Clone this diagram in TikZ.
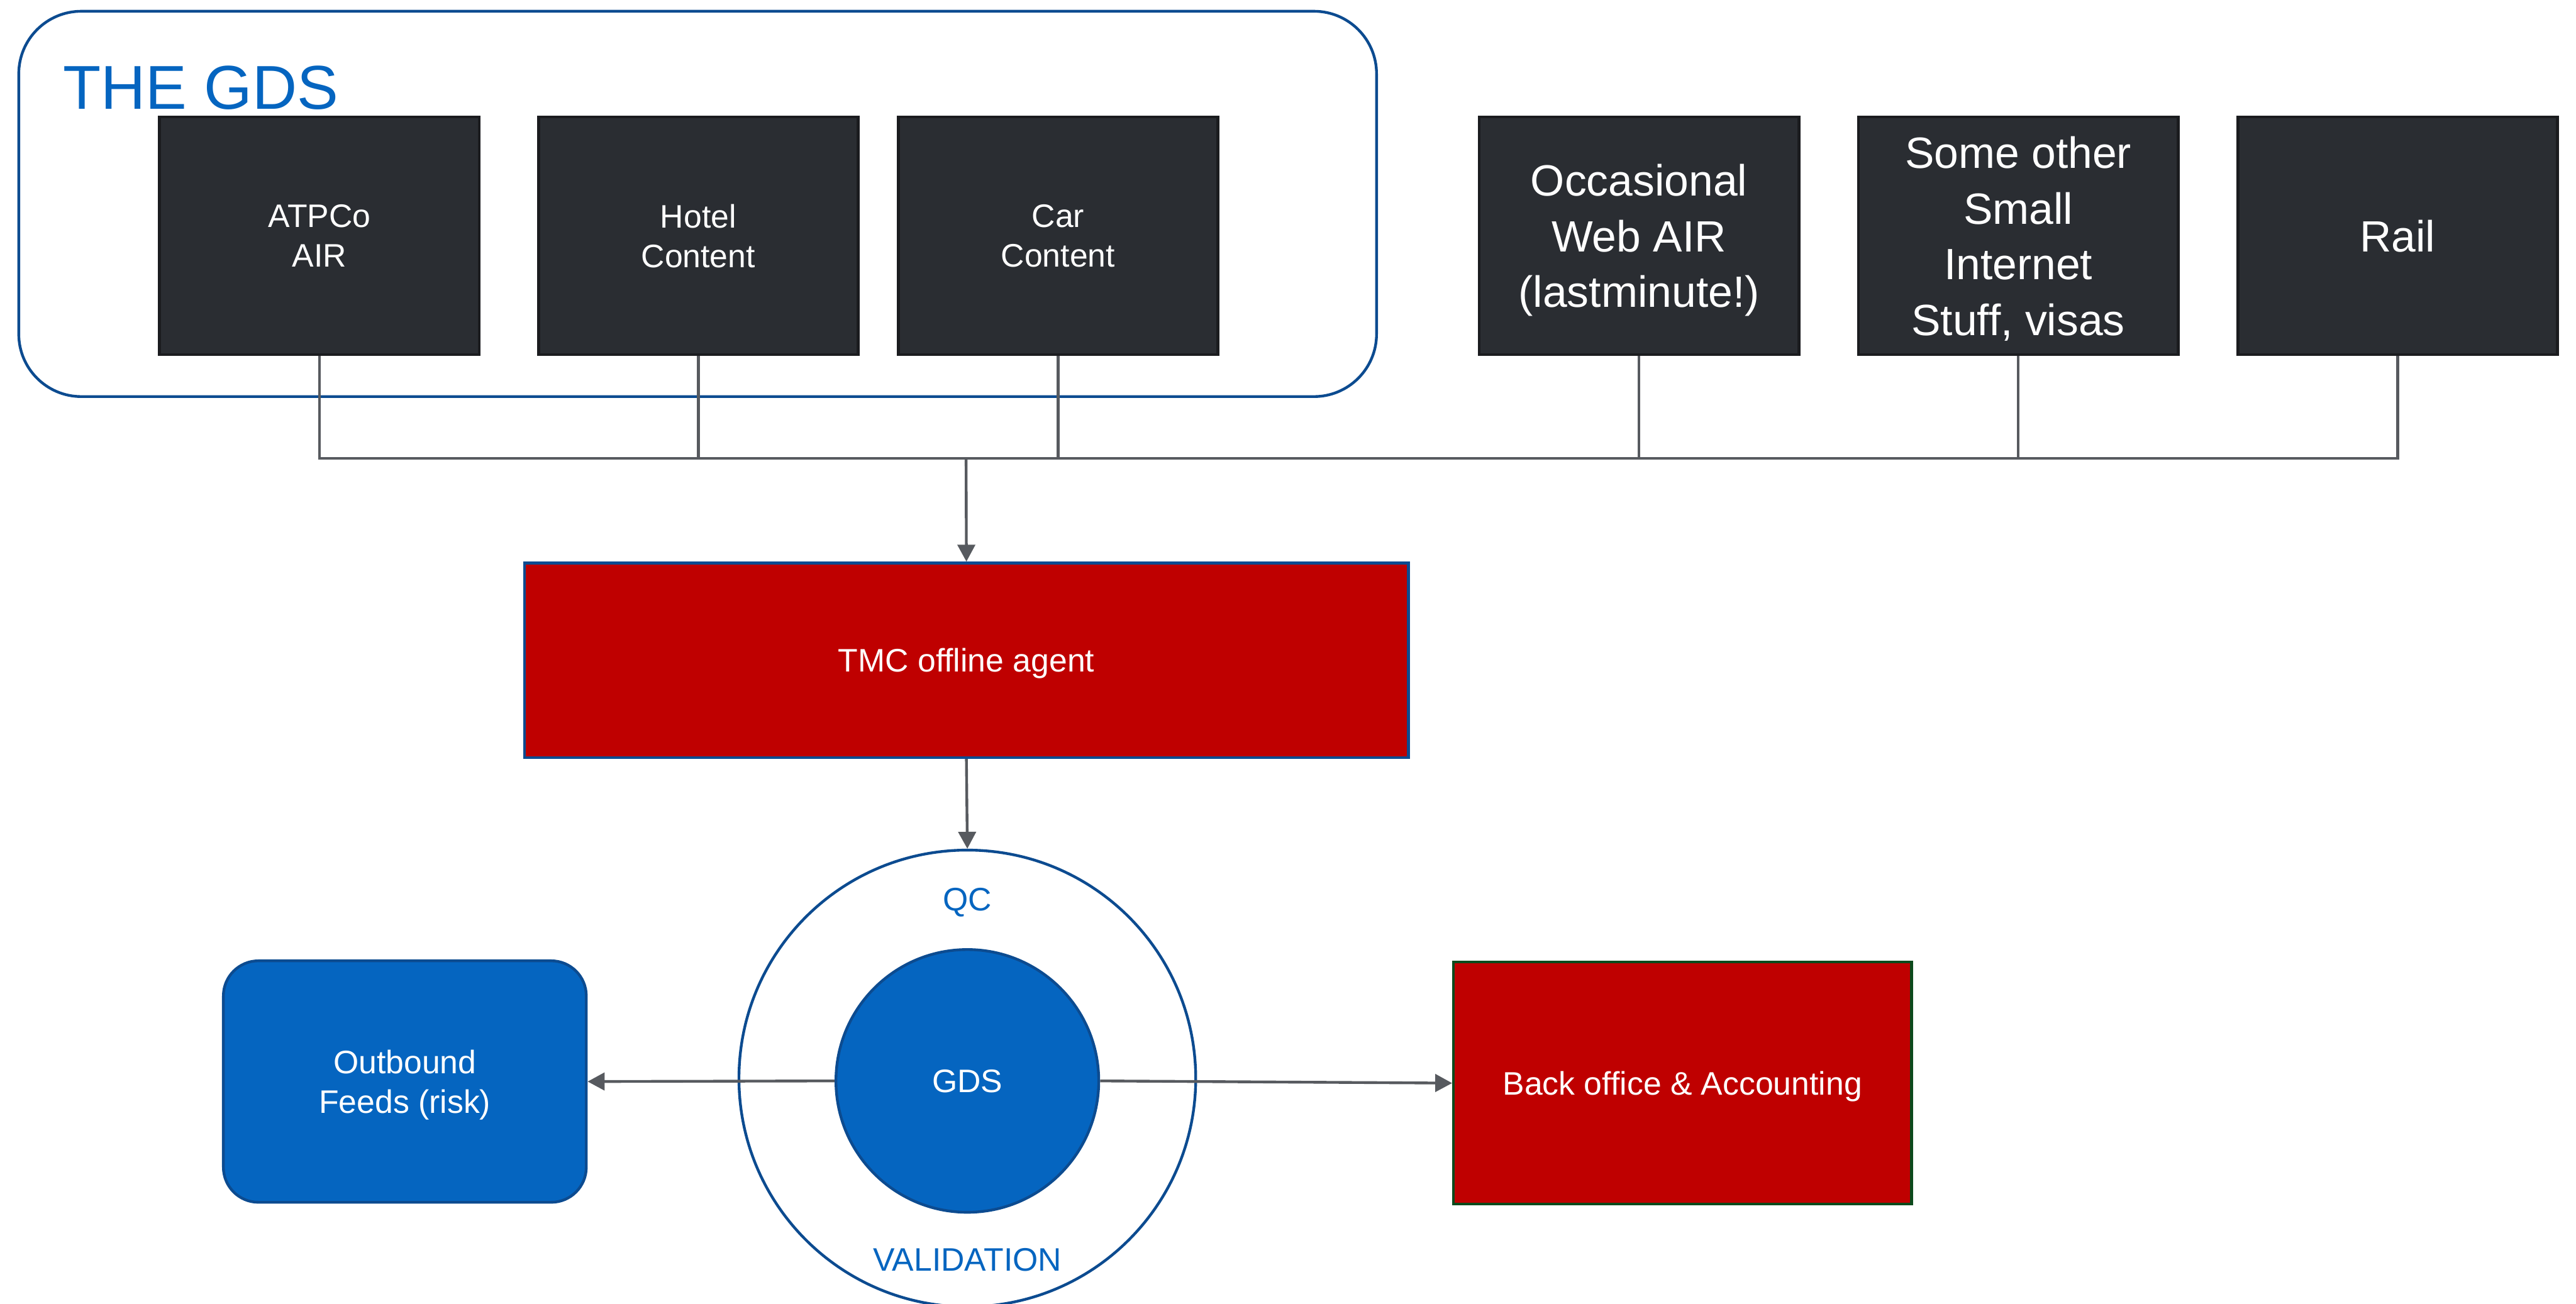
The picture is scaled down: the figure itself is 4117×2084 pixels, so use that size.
\documentclass[tikz,border=0pt]{standalone}
\usepackage{fontspec}
\setmainfont{Liberation Sans}
\usetikzlibrary{arrows.meta}

\definecolor{boxdark}{HTML}{2A2D32}
\definecolor{boxedge}{HTML}{1B1C1F}
\definecolor{tmcred}{HTML}{BF0000}
\definecolor{gdsblue}{HTML}{0565C0}
\definecolor{edgeblue}{HTML}{0C4B90}
\definecolor{edgegreen}{HTML}{0C4A1C}
\definecolor{wire}{HTML}{575A5F}

\tikzset{
  smalltext/.style={font=\fontsize{13}{15.75}\selectfont},
  bigtext/.style={font=\fontsize{17.5}{22.25}\selectfont},
  % text is centred on its letters, descenders are left out
  centred/.style={text depth=0pt},
  source/.style={draw=boxedge, fill=boxdark, line width=1.2pt, text=white,
    align=center, inner sep=0pt, centred, minimum width=127.75pt, minimum height=95pt},
  redbox/.style={fill=tmcred, line width=1.1pt, text=white, align=center,
    inner sep=0pt, centred, smalltext},
  bluebox/.style={draw=edgeblue, fill=gdsblue, line width=1.1pt, text=white,
    align=center, inner sep=0pt, centred, smalltext},
  wireline/.style={draw=wire, line width=1.1pt},
  flow/.style={wireline, -{Triangle[length=6.75pt, width=7pt]}},
  ringlabel/.style={text=gdsblue, smalltext, inner sep=0pt, anchor=base},
}

\begin{document}
\begin{tikzpicture}[x=0.25pt, y=-0.25pt]
  \useasboundingbox[fill=white] (0,0) rectangle (4117,2084);

  % GDS group frame and its title
  \node[draw=edgeblue, line width=1.1pt, rounded corners=25pt,
        minimum width=542.5pt, minimum height=154pt, inner sep=0pt]
        (gdsframe) at (1115,326) {};
  \node[anchor=base west, inner sep=0pt, text=gdsblue,
        font=\fontsize{24.75}{30}\selectfont] (gdstitle) at (100,174) {THE GDS};

  % content sources
  \node[source, smalltext] (atpco) at (510.5,377) {ATPCo\\AIR};
  \node[source, smalltext] (hotel) at (1116,377) {Hotel\\Content};
  \node[source, smalltext] (car)   at (1691,377) {Car\\Content};
  \node[source, bigtext] (webair)  at (2619.5,377) {Occasional\\Web AIR\\(lastminute!)};
  \node[source, bigtext] (small)   at (3225.5,377) {Some other\\Small\\Internet\\Stuff, visas};
  \node[source, bigtext] (rail)    at (3832,377) {Rail};

  % agent
  \node[redbox, draw=edgeblue, minimum width=353.25pt, minimum height=77.75pt]
        (tmc) at (1544.5,1055.5) {TMC offline agent};

  % QC / validation ring around the GDS
  \node[circle, draw=edgeblue, line width=1.1pt, fill=white,
        minimum size=182.5pt, inner sep=0pt] (ring) at (1546,1724) {};
  \node[circle, bluebox, minimum size=105pt] (gds) at (1546,1728) {GDS};
  \node[ringlabel] (qc) at (1546,1456) {QC};
  \node[ringlabel] (valid) at (1546,2032) {VALIDATION};

  % downstream systems
  \node[bluebox, rounded corners=14pt, minimum width=145pt, minimum height=96.5pt]
        (outbound) at (647,1729) {Outbound\\Feeds (risk)};
  \node[redbox, draw=edgegreen, minimum width=183pt, minimum height=96.75pt]
        (backoffice) at (2689,1731.5) {Back office \& Accounting};

  % collecting bus from all sources
  \coordinate (bus) at (1544,733);
  \draw[wireline] (atpco.south) -- (atpco.south |- bus) -- (rail.south |- bus) -- (rail.south);
  \foreach \src in {hotel, car, webair, small}
    \draw[wireline] (\src.south) -- (\src.south |- bus);

  % flows
  \draw[flow] (bus) -- (tmc.north);
  \draw[flow] (tmc.south) -- (ring.north);
  \draw[flow] (gds.west) -- (outbound.east);
  \draw[flow] (gds.east) -- (backoffice.west);
\end{tikzpicture}
\end{document}
